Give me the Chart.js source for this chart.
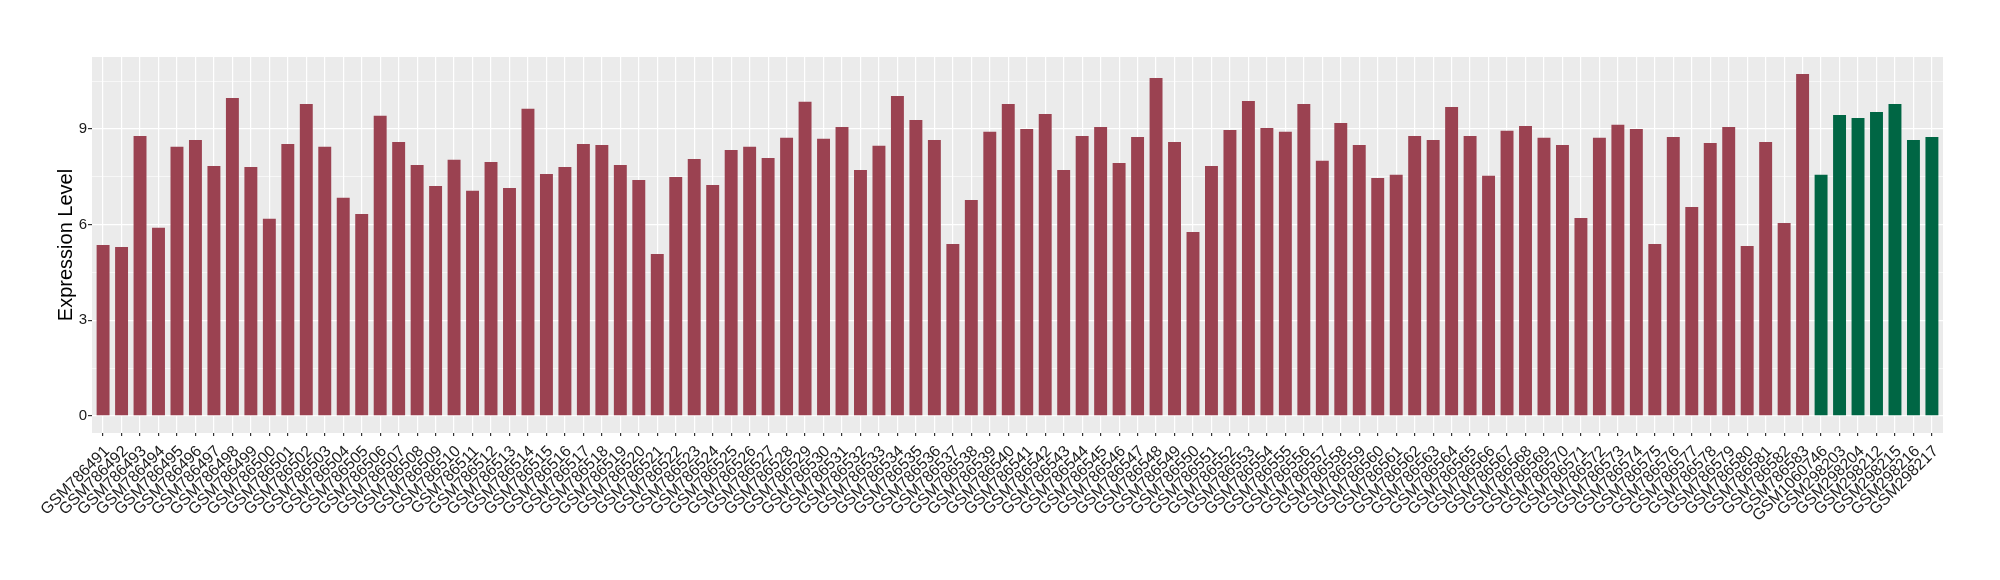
<!DOCTYPE html>
<html>
<head>
<meta charset="utf-8">
<script src="https://cdn.jsdelivr.net/npm/chart.js@4.4.1/dist/chart.umd.min.js"></script>
<style>
  body { margin: 0; background: #fff; }
  #wrap { width: 2000px; height: 580px; }
</style>
</head>
<body>
<div id="wrap"><canvas id="chart" width="2000" height="580"></canvas></div>
<script>
// samples from the first group (red bars)
const redSamples = [
  "GSM786491", "GSM786492", "GSM786493", "GSM786494", "GSM786495", "GSM786496", "GSM786497", "GSM786498", "GSM786499", "GSM786500",
  "GSM786501", "GSM786502", "GSM786503", "GSM786504", "GSM786505", "GSM786506", "GSM786507", "GSM786508", "GSM786509", "GSM786510",
  "GSM786511", "GSM786512", "GSM786513", "GSM786514", "GSM786515", "GSM786516", "GSM786517", "GSM786518", "GSM786519", "GSM786520",
  "GSM786521", "GSM786522", "GSM786523", "GSM786524", "GSM786525", "GSM786526", "GSM786527", "GSM786528", "GSM786529", "GSM786530",
  "GSM786531", "GSM786532", "GSM786533", "GSM786534", "GSM786535", "GSM786536", "GSM786537", "GSM786538", "GSM786539", "GSM786540",
  "GSM786541", "GSM786542", "GSM786543", "GSM786544", "GSM786545", "GSM786546", "GSM786547", "GSM786548", "GSM786549", "GSM786550",
  "GSM786551", "GSM786552", "GSM786553", "GSM786554", "GSM786555", "GSM786556", "GSM786557", "GSM786558", "GSM786559", "GSM786560",
  "GSM786561", "GSM786562", "GSM786563", "GSM786564", "GSM786565", "GSM786566", "GSM786567", "GSM786568", "GSM786569", "GSM786570",
  "GSM786571", "GSM786572", "GSM786573", "GSM786574", "GSM786575", "GSM786576", "GSM786577", "GSM786578", "GSM786579", "GSM786580",
  "GSM786581", "GSM786582", "GSM786583"
];
const redValues = [
  5.36, 5.30, 8.78, 5.90, 8.44, 8.65, 7.84, 9.97, 7.81, 6.18,
  8.53, 9.78, 8.44, 6.84, 6.33, 9.41, 8.59, 7.87, 7.21, 8.03,
  7.06, 7.96, 7.15, 9.63, 7.59, 7.81, 8.53, 8.50, 7.87, 7.40,
  5.08, 7.49, 8.06, 7.24, 8.34, 8.44, 8.09, 8.72, 9.85, 8.69,
  9.06, 7.71, 8.47, 10.03, 9.28, 8.65, 5.39, 6.77, 8.91, 9.78,
  9.00, 9.47, 7.71, 8.78, 9.06, 7.93, 8.75, 10.60, 8.59, 5.77,
  7.84, 8.97, 9.88, 9.03, 8.91, 9.78, 8.00, 9.19, 8.50, 7.46,
  7.56, 8.78, 8.65, 9.69, 8.78, 7.53, 8.94, 9.09, 8.72, 8.50,
  6.21, 8.72, 9.13, 9.00, 5.39, 8.75, 6.55, 8.56, 9.06, 5.33,
  8.59, 6.05, 10.72
];

// samples from the second group (green bars)
const greenSamples = ["GSM1060746", "GSM298203", "GSM298204", "GSM298212", "GSM298215", "GSM298216", "GSM298217"];
const greenValues = [7.56, 9.44, 9.34, 9.53, 9.78, 8.65, 8.75];

const yMajorTicks = [0, 3, 6, 9];
const yMinorTicks = [1.5, 4.5, 7.5, 10.5];

const categories = redSamples.concat(greenSamples);
const allValues = redValues.concat(greenValues);

// ggplot-like expansion: 5% on y, 0.6 category on x
const yMax = Math.max(...allValues);
const yLo = -0.05 * yMax;
const yHi = yMax * 1.05;

const panelBg = {
  id: "panelBg",
  beforeDraw(chart) {
    const a = chart.chartArea;
    const ctx = chart.ctx;
    ctx.save();
    ctx.fillStyle = "#EBEBEB";
    ctx.fillRect(a.left, a.top, a.right - a.left, a.bottom - a.top);
    ctx.restore();
  }
};

const FONT = "'Liberation Sans', Arial, sans-serif";

new Chart(document.getElementById("chart"), {
  type: "bar",
  data: {
    datasets: [
      {
        data: redValues.map((v, i) => ({ x: i, y: v })),
        backgroundColor: "#9B4251"
      },
      {
        data: greenValues.map((v, i) => ({ x: redSamples.length + i, y: v })),
        backgroundColor: "#006644"
      }
    ]
  },
  options: {
    responsive: false,
    animation: false,
    events: [],
    layout: { padding: { top: 57, right: 57, left: 0, bottom: 0 } },
    datasets: {
      bar: { grouped: false, categoryPercentage: 1, barPercentage: 0.7 }
    },
    plugins: {
      legend: { display: false },
      tooltip: { enabled: false }
    },
    scales: {
      x: {
        type: "linear",
        offset: false,
        min: -0.6,
        max: categories.length - 0.4,
        afterBuildTicks: (scale) => {
          scale.ticks = categories.map((c, i) => ({ value: i }));
        },
        afterFit: (scale) => { scale.height = 147; },
        border: { display: false },
        grid: {
          offset: false,
          color: "#FFFFFF",
          lineWidth: 1.2,
          tickColor: "#333333",
          tickLength: 3
        },
        ticks: {
          autoSkip: false,
          minRotation: 45,
          maxRotation: 45,
          padding: 6,
          labelOffset: 4,
          color: "#1A1A1A",
          font: { family: FONT, size: 16 },
          callback: (value) => categories[value]
        }
      },
      y: {
        min: yLo,
        max: yHi,
        afterBuildTicks: (scale) => {
          scale.ticks = yMajorTicks.concat(yMinorTicks).sort((a, b) => a - b).map(v => ({ value: v }));
        },
        afterFit: (scale) => { scale.width = 92; },
        border: { display: false },
        grid: {
          color: "#FFFFFF",
          lineWidth: (ctx) => (yMinorTicks.includes(ctx.tick.value) ? 0.6 : 1.2),
          tickColor: (ctx) => (yMinorTicks.includes(ctx.tick.value) ? "rgba(0,0,0,0)" : "#333333"),
          tickLength: 4
        },
        ticks: {
          padding: 1,
          color: "#1A1A1A",
          font: { family: FONT, size: 15 },
          callback: (value) => (yMajorTicks.includes(value) ? String(value) : "")
        },
        title: {
          display: true,
          text: "Expression Level",
          color: "#000000",
          font: { family: FONT, size: 20 },
          padding: { top: 54, bottom: 0 }
        }
      }
    }
  },
  plugins: [panelBg]
});
</script>
</body>
</html>
